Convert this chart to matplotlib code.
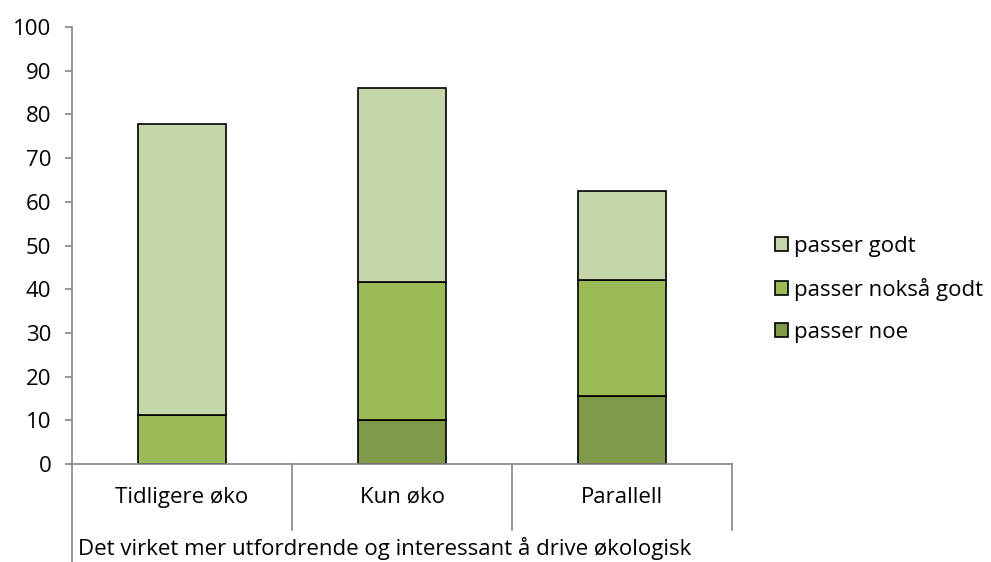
import numpy as np
import matplotlib.pyplot as plt
import matplotlib.transforms as mtransforms

plt.rcParams['font.family'] = ['Open Sans', 'DejaVu Sans']

categories = ['Tidligere øko', 'Kun øko', 'Parallell']
group_label = 'Det virket mer utfordrende og interessant å drive økologisk'
series_names = ['passer noe', 'passer nokså godt', 'passer godt']
passer_noe = [0.0, 10.1, 15.6]
passer_noksa = [11.2, 31.5, 26.5]
passer_godt = [66.6, 44.4, 20.4]
colors = ['#7f9b49', '#9bbb59', '#c5d6ab']

fs = 16

fig = plt.figure(figsize=(9.91, 5.62), dpi=100)
ax = fig.add_axes([0.0727, 0.174, 0.666, 0.778])

x = np.arange(len(categories)) + 0.5
bottom = np.zeros(len(categories))
handles = []
for vals, name, col in zip([passer_noe, passer_noksa, passer_godt], series_names, colors):
    vals = np.array(vals)
    b = ax.bar(x, vals, 0.4, bottom=bottom, color=col, edgecolor='black',
               linewidth=1.2, label=name)
    handles.append(b)
    bottom = bottom + vals

ax.set_xlim(0, 3)
ax.set_ylim(0, 100)
ax.set_yticks(np.arange(0, 101, 10))
ax.tick_params(axis='y', length=5, width=1.2, color='#868686', labelsize=fs, pad=10)
ax.set_xticks([])
for s in ['top', 'right']:
    ax.spines[s].set_visible(False)
for s in ['left', 'bottom']:
    ax.spines[s].set_color('#868686')
    ax.spines[s].set_linewidth(1.2)

# category separators and group box below axis
trans = mtransforms.blended_transform_factory(ax.transData, ax.transAxes)
for xs in [1, 2, 3]:
    ax.plot([xs, xs], [0, -0.15], transform=trans, color='#868686', lw=1.2, clip_on=False)
ax.plot([0, 0], [0, -0.24], transform=trans, color='#868686', lw=1.2, clip_on=False)
for xi, lab in zip(x, categories):
    ax.text(xi, -0.076, lab, transform=trans, ha='center', va='center', fontsize=fs)
ax.text(0.025, -0.192, group_label, transform=trans, ha='left', va='center', fontsize=fs)

ax.legend(handles[::-1], series_names[::-1], loc='center left', bbox_to_anchor=(1.035, 0.40),
          frameon=False, fontsize=fs, handlelength=0.6, handleheight=0.6,
          handletextpad=0.25, labelspacing=0.95)

fig.savefig('out.png', dpi=100)
